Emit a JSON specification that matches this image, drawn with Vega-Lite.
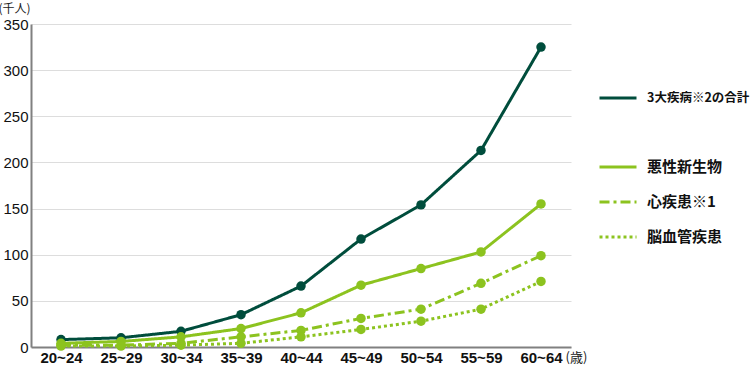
{
  "$schema": "https://vega.github.io/schema/vega-lite/v6.json",
  "width": 540,
  "height": 323,
  "autosize": {"type": "none"},
  "padding": {"left": 31, "top": 24, "right": 179, "bottom": 21},
  "background": "white",
  "config": {
    "view": {"stroke": null},
    "font": "Liberation Sans"
  },
  "data": {
    "values": [
      {"age": "20~24", "series": "3大疾病※2の合計", "value": 8},
      {"age": "25~29", "series": "3大疾病※2の合計", "value": 10},
      {"age": "30~34", "series": "3大疾病※2の合計", "value": 17},
      {"age": "35~39", "series": "3大疾病※2の合計", "value": 35},
      {"age": "40~44", "series": "3大疾病※2の合計", "value": 66},
      {"age": "45~49", "series": "3大疾病※2の合計", "value": 117},
      {"age": "50~54", "series": "3大疾病※2の合計", "value": 154},
      {"age": "55~59", "series": "3大疾病※2の合計", "value": 213},
      {"age": "60~64", "series": "3大疾病※2の合計", "value": 325},
      {"age": "20~24", "series": "悪性新生物", "value": 4},
      {"age": "25~29", "series": "悪性新生物", "value": 6},
      {"age": "30~34", "series": "悪性新生物", "value": 11},
      {"age": "35~39", "series": "悪性新生物", "value": 20},
      {"age": "40~44", "series": "悪性新生物", "value": 37},
      {"age": "45~49", "series": "悪性新生物", "value": 67},
      {"age": "50~54", "series": "悪性新生物", "value": 85},
      {"age": "55~59", "series": "悪性新生物", "value": 103},
      {"age": "60~64", "series": "悪性新生物", "value": 155},
      {"age": "20~24", "series": "心疾患※1", "value": 2},
      {"age": "25~29", "series": "心疾患※1", "value": 2},
      {"age": "30~34", "series": "心疾患※1", "value": 4},
      {"age": "35~39", "series": "心疾患※1", "value": 11},
      {"age": "40~44", "series": "心疾患※1", "value": 18},
      {"age": "45~49", "series": "心疾患※1", "value": 31},
      {"age": "50~54", "series": "心疾患※1", "value": 41},
      {"age": "55~59", "series": "心疾患※1", "value": 69},
      {"age": "60~64", "series": "心疾患※1", "value": 99},
      {"age": "20~24", "series": "脳血管疾患", "value": 1},
      {"age": "25~29", "series": "脳血管疾患", "value": 1},
      {"age": "30~34", "series": "脳血管疾患", "value": 2},
      {"age": "35~39", "series": "脳血管疾患", "value": 4},
      {"age": "40~44", "series": "脳血管疾患", "value": 11},
      {"age": "45~49", "series": "脳血管疾患", "value": 19},
      {"age": "50~54", "series": "脳血管疾患", "value": 28},
      {"age": "55~59", "series": "脳血管疾患", "value": 41},
      {"age": "60~64", "series": "脳血管疾患", "value": 71}
    ]
  },
  "encoding": {
    "x": {
      "field": "age",
      "type": "ordinal",
      "scale": {"type": "point", "padding": 0.5},
      "axis": {
        "title": "(歳)",
        "titleFont": "Noto Sans CJK JP",
        "titleFontSize": 13,
        "titleFontWeight": "normal",
        "titleColor": "#222",
        "titleAlign": "left",
        "titleBaseline": "middle",
        "titleX": 534,
        "titleY": 10,
        "labelAngle": 0,
        "labelFontSize": 15,
        "labelFontWeight": "bold",
        "labelColor": "#111",
        "labelPadding": 3,
        "ticks": false,
        "domainColor": "#808080",
        "domainWidth": 2,
        "grid": false
      }
    },
    "y": {
      "field": "value",
      "type": "quantitative",
      "scale": {"domain": [0, 350], "nice": false},
      "axis": {
        "title": "(千人)",
        "titleFont": "Noto Sans CJK JP",
        "titleFontSize": 12,
        "titleFontWeight": "normal",
        "titleColor": "#222",
        "titleAngle": 0,
        "titleAlign": "left",
        "titleBaseline": "middle",
        "titleX": -33,
        "titleY": -16,
        "values": [0, 50, 100, 150, 200, 250, 300, 350],
        "labelFontSize": 15,
        "labelColor": "#111",
        "labelPadding": 3,
        "ticks": false,
        "domainColor": "#808080",
        "domainWidth": 2,
        "gridColor": "#dddddd",
        "gridWidth": 1
      }
    },
    "color": {
      "field": "series",
      "type": "nominal",
      "scale": {
        "domain": ["3大疾病※2の合計", " ", "悪性新生物", "心疾患※1", "脳血管疾患"],
        "range": ["#004d3c", "transparent", "#8cc31f", "#8cc31f", "#8cc31f"]
      },
      "legend": {
        "title": null,
        "orient": "none",
        "legendX": 567,
        "legendY": 54,
        "symbolType": "stroke",
        "symbolSize": 1369,
        "symbolStrokeWidth": 3,
        "rowPadding": 7,
        "labelFont": "Noto Sans CJK JP",
        "labelFontSize": 15,
        "labelFontWeight": "bold",
        "labelColor": "#111",
        "labelOffset": 9,
        "labelLimit": 0,
        "encode": {
          "labels": {
            "update": {
              "fontSize": {"signal": "datum.label === '3大疾病※2の合計' ? 12.5 : 15"}
            }
          }
        }
      }
    },
    "strokeDash": {
      "field": "series",
      "type": "nominal",
      "scale": {
        "domain": ["3大疾病※2の合計", " ", "悪性新生物", "心疾患※1", "脳血管疾患"],
        "range": [[1, 0], [1, 0], [1, 0], [10, 4, 3, 4], [3, 3]]
      },
      "legend": null
    }
  },
  "layer": [
    {"mark": {"type": "line", "strokeWidth": 3}},
    {
      "mark": {"type": "circle", "size": 90, "opacity": 1},
      "encoding": {"strokeDash": {"value": [1, 0]}}
    }
  ]
}
